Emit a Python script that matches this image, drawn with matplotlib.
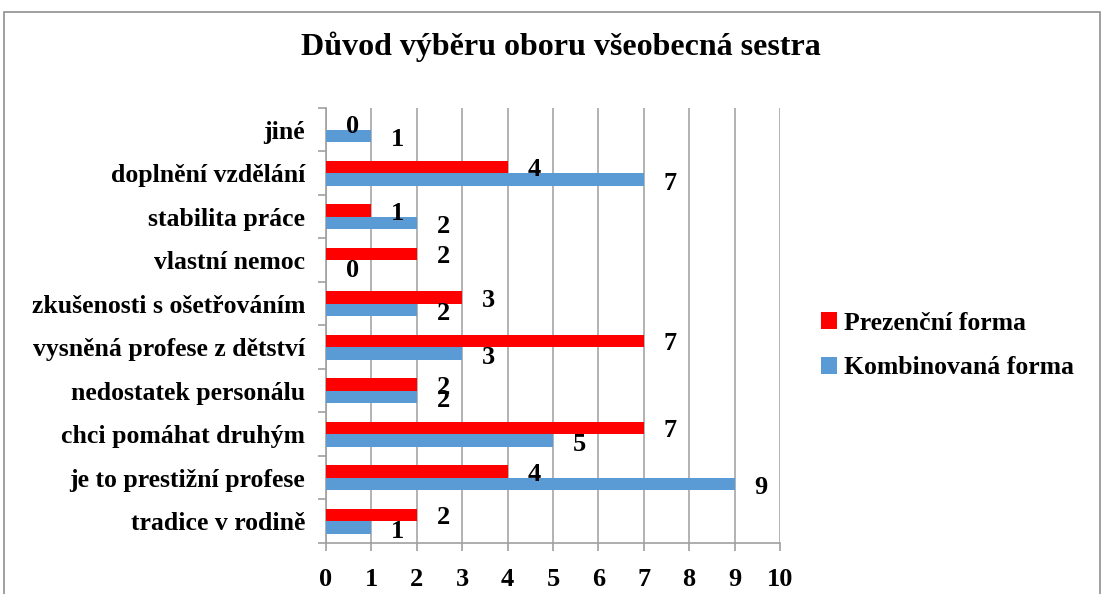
import pandas as pd
import matplotlib.pyplot as plt
import numpy as np

# --- STEP 1: **Survey data: reason for choosing general nursing** ---
# **Categories from bottom to top, as on the chart**
categories = ["tradice v rodině", "je to prestižní profese", "chci pomáhat druhým",
              "nedostatek personálu", "vysněná profese z dětství", "zkušenosti s ošetřováním",
              "vlastní nemoc", "stabilita práce", "doplnění vzdělání", "jiné"]
prezencni = [2, 4, 7, 2, 7, 3, 2, 1, 4, 0]
kombinovana = [1, 9, 5, 2, 3, 2, 0, 2, 7, 1]
x_ticks = [0, 1, 2, 3, 4, 5, 6, 7, 8, 9, 10]

# **Converting lists to Pandas DataFrame**
df = pd.DataFrame({"Prezenční forma": prezencni, "Kombinovaná forma": kombinovana}, index=categories)
print(df)

# --- STEP 2: **Visualization: grouped horizontal bars** ---
plt.rcParams['font.family'] = 'Liberation Serif'
plt.rcParams['font.weight'] = 'bold'

fig = plt.figure(figsize=(11.04, 5.94), dpi=100)
ax = fig.add_axes([0.2953, 0.0859, 0.4112, 0.7323])

pos = np.arange(len(categories))
h = 0.29  # **bar height**
plt.barh(pos + h / 2, df["Prezenční forma"], height=h, color='#FF0000', label="Prezenční forma", zorder=3)
plt.barh(pos - h / 2, df["Kombinovaná forma"], height=h, color='#5B9BD5', label="Kombinovaná forma", zorder=3)

# **Value labels next to each bar**
for i, (p, k) in enumerate(zip(df["Prezenční forma"], df["Kombinovaná forma"])):
    plt.text(p + 0.58, i + h / 2 - 0.06, str(p), ha='center', va='center', fontsize=19, fontweight='bold')
    plt.text(k + 0.58, i - h / 2 - 0.08, str(k), ha='center', va='center', fontsize=19, fontweight='bold')

plt.xlim(0, 10)
plt.ylim(-0.5, len(categories) - 0.5)
plt.xticks(x_ticks, fontsize=19, fontweight='bold')
plt.yticks(pos, categories, fontsize=18.5, fontweight='bold')

# **Excel-like axes: ticks between categories, light grid**
ax.set_yticks(np.arange(-0.5, len(categories), 1), minor=True)
ax.tick_params(axis='y', which='major', length=0, pad=15)
ax.tick_params(axis='y', which='minor', length=6, color='#a0a0a0', width=1.2)
ax.tick_params(axis='x', length=6, color='#a0a0a0', width=1.2, pad=12)
plt.grid(axis='x', color='#a6a6a6', linewidth=1.2, zorder=0)
for side in ['top', 'right']:
    ax.spines[side].set_visible(False)
for side in ['left', 'bottom']:
    ax.spines[side].set_color('#a0a0a0')
    ax.spines[side].set_linewidth(1.2)

plt.suptitle("Důvod výběru oboru všeobecná sestra", x=0.508, y=0.922, va='center', fontsize=23, fontweight='bold')
plt.legend(loc='center left', bbox_to_anchor=(1.04, 0.454), frameon=False, fontsize=18.5,
           handlelength=0.6, handleheight=0.6, handletextpad=0.3, labelspacing=0.85)

# **Chart frame**
fig.patches.append(plt.Rectangle((0.004, -0.05), 0.992, 1.03, transform=fig.transFigure,
                                 fill=False, edgecolor='#909090', linewidth=1.2))

plt.savefig("out.png", dpi=100)
